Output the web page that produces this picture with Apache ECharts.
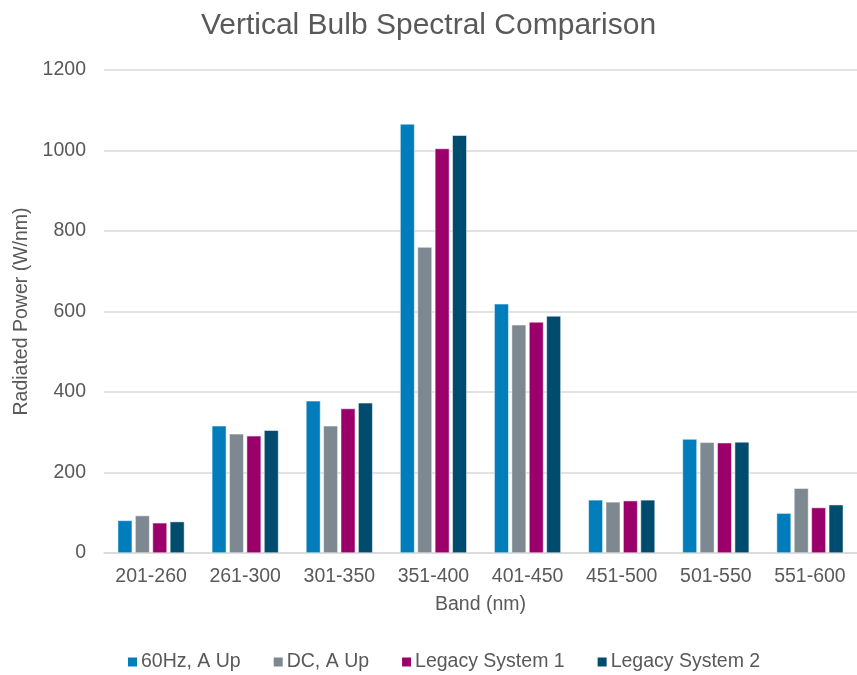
<!DOCTYPE html>
<html>
<head>
<meta charset="utf-8">
<script src="https://cdn.jsdelivr.net/npm/echarts@6/dist/echarts.min.js"></script>
<style>
  html, body { margin: 0; padding: 0; background: #fff; }
  #chart { width: 857px; height: 675px; }
</style>
</head>
<body>
<div id="chart"></div>
<script>
// Wavelength bands (nm)
const bands = ['201-260', '261-300', '301-350', '351-400', '401-450', '451-500', '501-550', '551-600'];

// Radiated power per band (W/nm)
const hz60AUp   = [81, 316, 378, 1066, 619, 132, 283, 99];
const dcAUp     = [93, 296, 316, 760, 567, 127, 275, 161];
const legacy1   = [75, 291, 359, 1005, 574, 130, 274, 113];
const legacy2   = [78, 305, 373, 1038, 589, 132, 276, 120];

const seriesNames = ['60Hz, A Up', 'DC, A Up', 'Legacy System 1', 'Legacy System 2'];
const seriesColors = ['#007DBA', '#7E8891', '#9B006A', '#004C6F'];
const seriesData = [hz60AUp, dcAUp, legacy1, legacy2];

const yTicks = [0, 200, 400, 600, 800, 1000, 1200];

const font = '"Liberation Sans", Arial, sans-serif';
const textColor = '#595959';
const labelSize = 19.5;

const chart = echarts.init(document.getElementById('chart'), null, { renderer: 'canvas' });

chart.setOption({
  animation: false,
  backgroundColor: '#ffffff',
  textStyle: { fontFamily: font },
  title: {
    text: 'Vertical Bulb Spectral Comparison',
    left: 'center',
    top: 6,
    textStyle: { fontFamily: font, fontSize: 30, fontWeight: 'normal', color: textColor }
  },
  legend: {
    top: 652,
    left: 126,
    padding: 0,
    itemWidth: 11,
    itemHeight: 11,
    itemGap: 31,
    icon: 'rect',
    textStyle: { fontFamily: font, fontSize: labelSize, color: textColor, padding: [0, 0, 0, -2] },
    data: seriesNames
  },
  grid: { left: 104, right: 0, top: 70, bottom: 122, containLabel: false },
  xAxis: {
    type: 'category',
    data: bands,
    name: 'Band (nm)',
    nameLocation: 'middle',
    nameGap: 42,
    nameTextStyle: { fontFamily: font, fontSize: labelSize, color: textColor },
    axisLine: { lineStyle: { color: '#D9D9D9', width: 1.5 } },
    axisTick: { show: false },
    axisLabel: { fontFamily: font, fontSize: labelSize, color: textColor, margin: 14 }
  },
  yAxis: {
    type: 'value',
    min: yTicks[0],
    max: yTicks[yTicks.length - 1],
    interval: 200,
    name: 'Radiated Power (W/nm)',
    nameLocation: 'middle',
    nameGap: 68,
    nameTextStyle: { fontFamily: font, fontSize: labelSize, color: textColor },
    axisLine: { show: false },
    axisTick: { show: false },
    axisLabel: {
      fontFamily: font, fontSize: labelSize, color: textColor, margin: 18,
      formatter: (v) => String(v)
    },
    splitLine: { lineStyle: { color: '#D9D9D9', width: 1.5 } }
  },
  series: seriesNames.map((name, i) => ({
    name: name,
    type: 'bar',
    data: seriesData[i],
    barWidth: 14.5,
    barGap: '20%',
    itemStyle: { color: seriesColors[i], borderColor: '#ffffff', borderWidth: 0.5 }
  }))
});
</script>
</body>
</html>
